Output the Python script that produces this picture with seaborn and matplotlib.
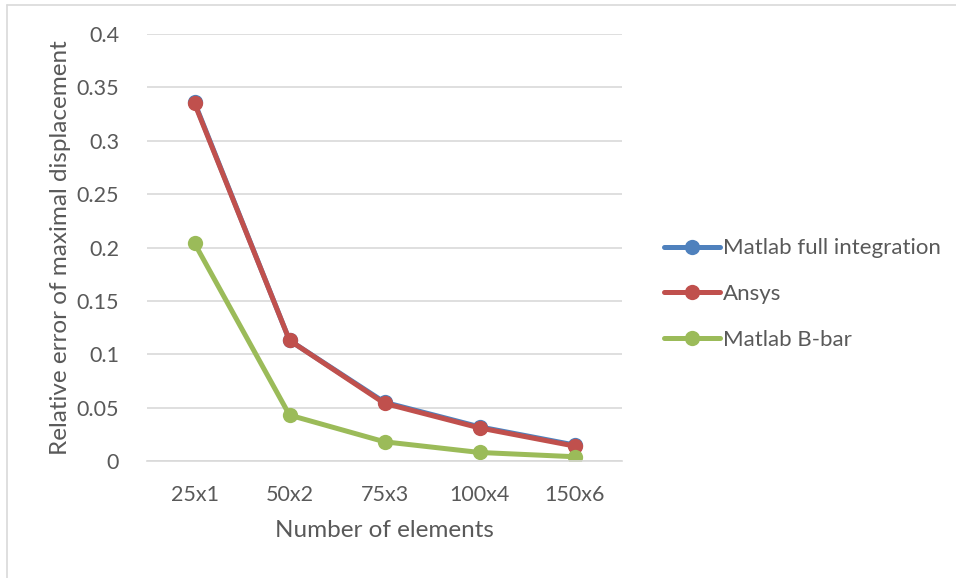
import matplotlib
matplotlib.use("Agg")
import matplotlib.pyplot as plt
import seaborn as sns
import pandas as pd
from matplotlib.lines import Line2D

categories = ["25x1", "50x2", "75x3", "100x4", "150x6"]
matlab_full = [0.336, 0.113, 0.055, 0.032, 0.015]
ansys = [0.335, 0.113, 0.054, 0.031, 0.014]
matlab_bbar = [0.204, 0.043, 0.018, 0.008, 0.004]
series_names = ["Matlab full integration", "Ansys", "Matlab B-bar"]
colors = ["#4F81BD", "#C0504D", "#9BBB59"]
yticks = [0, 0.05, 0.1, 0.15, 0.2, 0.25, 0.3, 0.35, 0.4]
ytick_labels = ["0", "0.05", "0.1", "0.15", "0.2", "0.25", "0.3", "0.35", "0.4"]

sns.set_theme(style="white")
plt.rcParams["font.family"] = ["Lato", "DejaVu Sans"]
text_color = "#595959"

rows = []
for name, vals in zip(series_names, [matlab_full, ansys, matlab_bbar]):
    for i, (c, v) in enumerate(zip(categories, vals)):
        rows.append({"idx": i, "cat": c, "value": v, "series": name})
df = pd.DataFrame(rows)

fig = plt.figure(figsize=(9.56, 5.78), dpi=100)
ax = fig.add_axes([147 / 956, 1 - 461 / 578, 475 / 956, 427 / 578])

sns.lineplot(data=df, x="idx", y="value", hue="series", hue_order=series_names,
             palette=colors, marker="o", markersize=11, linewidth=3.6,
             markeredgewidth=0, ax=ax, legend=False, sort=False)

ax.set_xlim(-0.5, len(categories) - 0.5)
ax.set_ylim(0, 0.4)
ax.set_xticks(range(len(categories)))
ax.set_xticklabels(categories)
ax.set_yticks(yticks)
ax.set_yticklabels(ytick_labels)
ax.grid(axis="y", color="#D9D9D9", linewidth=1.2)
ax.set_axisbelow(True)
for s in ["top", "right", "left"]:
    ax.spines[s].set_visible(False)
ax.spines["bottom"].set_color("#D9D9D9")
ax.spines["bottom"].set_linewidth(1.2)
ax.tick_params(axis="both", length=0, labelsize=15.5, colors=text_color)
ax.tick_params(axis="x", pad=17)
ax.tick_params(axis="y", pad=20)
ax.set_xlabel("Number of elements", fontsize=17.5, color=text_color, labelpad=11)
ax.set_ylabel("Relative error of maximal displacement", fontsize=17.5,
              color=text_color, labelpad=4)

handles = [Line2D([0], [0], color=c, linewidth=3.6, marker="o", markersize=11,
                  markeredgewidth=0) for c in colors]
leg = fig.legend(handles, series_names, loc="center left",
                 bbox_to_anchor=(644 / 956, 1 - 294 / 578), frameon=False,
                 fontsize=16, handlelength=2.5, handletextpad=0.15,
                 labelspacing=1.15)
for t in leg.get_texts():
    t.set_color(text_color)

# chart border
fig.add_artist(Line2D([7 / 956, 7 / 956], [0, 1 - 5 / 578], transform=fig.transFigure,
                      color="#D9D9D9", linewidth=1.2))
fig.add_artist(Line2D([7 / 956, 1], [1 - 5 / 578, 1 - 5 / 578], transform=fig.transFigure,
                      color="#D9D9D9", linewidth=1.2))

fig.savefig("out.png", dpi=100, facecolor="white")
